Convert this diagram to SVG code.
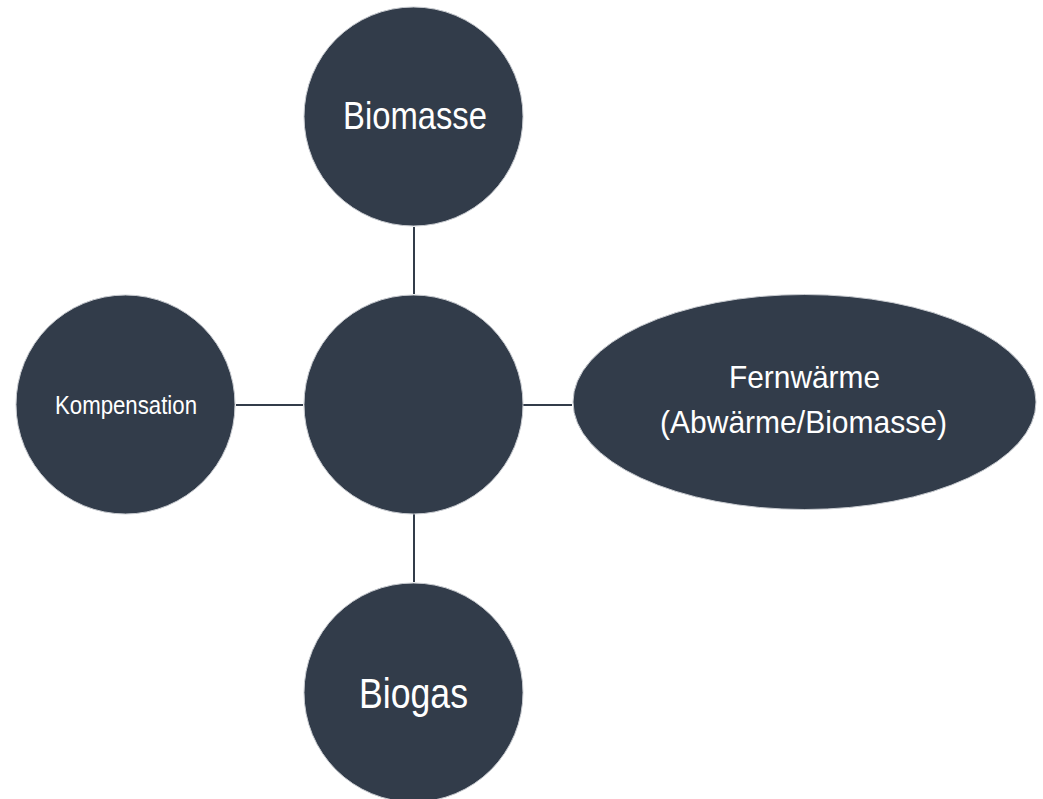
<svg xmlns="http://www.w3.org/2000/svg" width="1043" height="799" viewBox="0 0 1043 799">
<style>
.n{fill:#323c4a;stroke:#c9ccd1;stroke-width:1}
.t{fill:#ffffff;font-family:"Liberation Sans",Arial,sans-serif;text-anchor:middle}
.c{stroke:#323c4a;stroke-width:2;fill:none}
</style>
<rect width="1043" height="799" fill="#ffffff"/>
<g id="connectors">
<line class="c" x1="414" y1="227" x2="414" y2="294"/>
<line class="c" x1="414" y1="514" x2="414" y2="582"/>
<line class="c" x1="236" y1="405" x2="303" y2="405"/>
<line class="c" x1="523" y1="405" x2="572" y2="405"/>
</g>
<g id="biomasse">
<circle class="n" cx="413.5" cy="116.5" r="109.5"/>
<text class="t" x="415" y="129" font-size="39" textLength="144" lengthAdjust="spacingAndGlyphs">Biomasse</text>
</g>
<g id="center">
<circle class="n" cx="413.5" cy="404.5" r="109.5"/>
</g>
<g id="kompensation">
<circle class="n" cx="125.5" cy="404.5" r="109.5"/>
<text class="t" x="126" y="414" font-size="26" textLength="142" lengthAdjust="spacingAndGlyphs">Kompensation</text>
</g>
<g id="fernwaerme">
<ellipse class="n" cx="804.5" cy="402" rx="231.5" ry="107.5"/>
<text class="t" x="804.5" y="388" font-size="32" textLength="151" lengthAdjust="spacingAndGlyphs">Fernwärme</text>
<text class="t" x="803.5" y="433" font-size="32" textLength="287" lengthAdjust="spacingAndGlyphs">(Abwärme/Biomasse)</text>
</g>
<g id="biogas">
<circle class="n" cx="413.5" cy="692.5" r="109.5"/>
<text class="t" x="413.5" y="708" font-size="43" textLength="109" lengthAdjust="spacingAndGlyphs">Biogas</text>
</g>
</svg>
